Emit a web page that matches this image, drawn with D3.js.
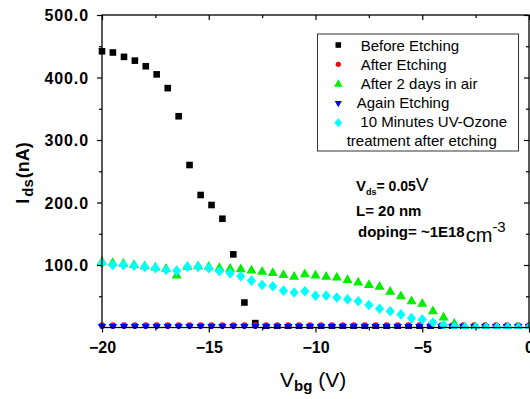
<!DOCTYPE html>
<html>
<head>
<meta charset="utf-8">
<script src="https://cdn.jsdelivr.net/npm/d3@7/dist/d3.min.js"></script>
<style>
  html, body { margin: 0; padding: 0; background: #fff; }
  svg { display: block; }
  text { font-family: "Liberation Sans", Arial, sans-serif; fill: #000; }
</style>
</head>
<body>
<svg id="chart" width="530" height="399"></svg>
<script>
// ---------------- DATA ----------------
const seriesNames = ["Before Etching", "After Etching", "After 2 days in air", "Again Etching", "10 Minutes UV-Ozone"];
const legendExtraLine = "treatment after etching";

// gate voltages (V) for the etching sweeps (40 points)
const vbgA = [-20, -19.49, -18.97, -18.46, -17.95, -17.44, -16.92, -16.41, -15.90, -15.38,
              -14.87, -14.36, -13.85, -13.33, -12.82, -12.31, -11.79, -11.28, -10.77, -10.26,
              -9.74, -9.23, -8.72, -8.21, -7.69, -7.18, -6.67, -6.15, -5.64, -5.13,
              -4.62, -4.10, -3.59, -3.08, -2.56, -2.05, -1.54, -1.03, -0.51, 0];
// gate voltages (V) for the air / UV-ozone sweeps (41 points)
const vbgB = [-20, -19.5, -19, -18.5, -18, -17.5, -17, -16.5, -16, -15.5,
              -15, -14.5, -14, -13.5, -13, -12.5, -12, -11.5, -11, -10.5,
              -10, -9.5, -9, -8.5, -8, -7.5, -7, -6.5, -6, -5.5,
              -5, -4.5, -4, -3.5, -3, -2.5, -2, -1.5, -1, -0.5, 0];

const beforeEtching = [442, 440, 433, 427, 418, 405, 383, 338, 260, 212,
                       196, 174, 117, 40, 7, 0, 0, 0, 0, 0,
                       0, 0, 0, 0, 0, 0, 0, 0, 0, 0,
                       0, 0, 0, 0, 0, 0, 0, 0, 0, 0];
const afterEtching = [3.5, 3.5, 3.5, 3.5, 3.5, 3.5, 3.5, 3.5, 3.5, 3.5,
                      3.5, 3.5, 3.5, 3.5, 3.5, 3.5, 3.5, 3.5, 3.5, 3.5,
                      3.5, 3.5, 3.5, 3.5, 3.5, 3.5, 3.5, 3.5, 3.5, 3.5,
                      3.5, 3.5, 3.5, 3.5, 3.5, 3.5, 3.5, 3.5, 3.5, 3.5];
const after2Days = [106, 104, 103, 101, 99, 97, 95, 84, 98, 99,
                    98, 96, 95, 94, 92, 90, 88, 85, 82, 86,
                    84, 82, 81, 77, 73, 69, 66, 58, 51, 43,
                    39, 27, 17, 7, 1, 1, 1, 1, 1, 1, 1];
const againEtching = [1, 1, 1, 1, 1, 1, 1, 1, 1, 1,
                      1, 1, 1, 1, 1, 1, 1, 1, 1, 1,
                      1, 1, 1, 1, 1, 1, 1, 1, 1, 1,
                      1, 1, 1, 1, 1, 1, 1, 1, 1, 1];
const uvOzone = [103, 100, 100, 99, 97, 95, 92, 91, 97, 97,
                 95, 90, 87, 82, 75, 68, 66, 59, 56, 58,
                 51, 51, 48, 45, 42, 36, 30, 26, 21, 15,
                 13, 8, 4, 1, 0, 0, 0, 0, 0, 0, 0];

const xMajorTicks = [-20, -15, -10, -5, 0];
const xMinorTicks = [-17.5, -12.5, -7.5, -2.5];
const yMajorTicks = [100, 200, 300, 400, 500];
const yMinorTicks = [50, 150, 250, 350, 450];

// ---------------- LAYOUT ----------------
const svg = d3.select("#chart");
const L = 102, R = 529, T = 15, B = 327.5;
const x = d3.scaleLinear().domain([-20, 0]).range([L, R]);
const y = d3.scaleLinear().domain([0, 500]).range([B, T]);

// marker shapes
function markerPath(type) {
  switch (type) {
    case "square": { const h = 3.3; return `M${-h},${-h}H${h}V${h}H${-h}Z`; }
    case "circle": { const r = 3.1; return `M${r},0A${r},${r} 0 1,1 ${-r},0A${r},${r} 0 1,1 ${r},0Z`; }
    case "triUp": return "M0,-5.2L5,3.6L-5,3.6Z";
    case "triDown": return "M0,4.4L4.2,-3L-4.2,-3Z";
    case "diamond": return "M0,-5.3L4.6,0L0,5.3L-4.6,0Z";
  }
}

const series = [
  { name: seriesNames[0], xs: vbgA, ys: beforeEtching, color: "#000000", shape: "square" },
  { name: seriesNames[1], xs: vbgA, ys: afterEtching, color: "#ff0000", shape: "circle" },
  { name: seriesNames[2], xs: vbgB, ys: after2Days, color: "#00ee00", shape: "triUp" },
  { name: seriesNames[3], xs: vbgA, ys: againEtching, color: "#0000ff", shape: "triDown" },
  { name: seriesNames[4], xs: vbgB, ys: uvOzone, color: "#00ffff", shape: "diamond" }
];

svg.append("defs").append("clipPath").attr("id", "plotclip")
  .append("rect").attr("x", L - 6).attr("y", T).attr("width", R - L + 12).attr("height", B - T + 1.5);

const plot = svg.append("g").attr("clip-path", "url(#plotclip)");
series.forEach(s => {
  plot.append("g").selectAll("path")
    .data(s.xs.map((v, i) => [v, s.ys[i]]))
    .join("path")
    .attr("d", markerPath(s.shape))
    .attr("transform", d => `translate(${x(d[0])},${y(d[1])})`)
    .attr("fill", s.color);
});

// ---------------- AXES ----------------
function styleAxis(g) {
  g.select(".domain").remove();
  g.selectAll(".tick line").attr("stroke", "#000").attr("stroke-width", 1.2);
}
// bottom
svg.append("g").attr("transform", `translate(0,${B})`)
  .call(d3.axisBottom(x).tickValues(xMajorTicks).tickSize(5).tickPadding(9).tickFormat(d3.format("d")))
  .call(styleAxis)
  .call(g => g.selectAll("text").attr("font-size", 16).attr("font-weight", "bold")
    .attr("font-family", "Liberation Sans, Arial, sans-serif"));
svg.append("g").attr("transform", `translate(0,${B})`)
  .call(d3.axisBottom(x).tickValues(xMinorTicks).tickSize(3).tickFormat(""))
  .call(styleAxis);
// top (inward)
svg.append("g").attr("transform", `translate(0,${T})`)
  .call(d3.axisTop(x).tickValues(xMajorTicks).tickSize(-5).tickFormat(""))
  .call(styleAxis);
svg.append("g").attr("transform", `translate(0,${T})`)
  .call(d3.axisTop(x).tickValues(xMinorTicks).tickSize(-3).tickFormat(""))
  .call(styleAxis);
// left
svg.append("g").attr("transform", `translate(${L},0)`)
  .call(d3.axisLeft(y).tickValues(yMajorTicks).tickSize(5).tickPadding(8).tickFormat(d3.format(".1f")))
  .call(styleAxis)
  .call(g => g.selectAll("text").attr("font-size", 16).attr("font-weight", "bold")
    .attr("letter-spacing", "0.9px").attr("dy", "0.35em")
    .attr("font-family", "Liberation Sans, Arial, sans-serif"));
svg.append("g").attr("transform", `translate(${L},0)`)
  .call(d3.axisLeft(y).tickValues(yMinorTicks).tickSize(3).tickFormat(""))
  .call(styleAxis);
// right (inward)
svg.append("g").attr("transform", `translate(${R},0)`)
  .call(d3.axisRight(y).tickValues(yMajorTicks).tickSize(-5).tickFormat(""))
  .call(styleAxis);
svg.append("g").attr("transform", `translate(${R},0)`)
  .call(d3.axisRight(y).tickValues(yMinorTicks).tickSize(-3).tickFormat(""))
  .call(styleAxis);

// frame
svg.append("rect").attr("x", L).attr("y", T).attr("width", R - L).attr("height", B - T)
  .attr("fill", "none").attr("stroke", "#000").attr("stroke-width", 1.3);

// ---------------- TITLES ----------------
const xt = svg.append("text").attr("x", 280).attr("y", 387);
xt.append("tspan").attr("font-size", 21).text("V");
xt.append("tspan").attr("font-size", 15).attr("font-weight", "bold").attr("dy", 4).text("bg");
xt.append("tspan").attr("font-size", 21).attr("dy", -4).text(" (V)");

const yt = svg.append("text").attr("transform", "translate(29,173) rotate(-90)")
  .attr("text-anchor", "middle").attr("font-weight", "bold");
yt.append("tspan").attr("font-size", 18).text("I");
yt.append("tspan").attr("font-size", 15).attr("dy", 4).attr("dx", 2).text("ds");
yt.append("tspan").attr("font-size", 18).attr("dy", -4).attr("dx", 1).text("(nA)");

// ---------------- LEGEND ----------------
const lg = svg.append("g");
lg.append("rect").attr("x", 317.5).attr("y", 34).attr("width", 201).attr("height", 117)
  .attr("fill", "#fff").attr("stroke", "#333").attr("stroke-width", 1);
const markerYs = [45, 64.3, 83.6, 103.5, 122.7];
const textYs = [50.7, 69.5, 88.5, 107.5, 126.7];
const textXs = [360.7, 360.7, 360.7, 356.7, 360.3];
series.forEach((s, i) => {
  lg.append("path").attr("d", markerPath(s.shape))
    .attr("transform", `translate(338.3,${markerYs[i]}) scale(0.85)`)
    .attr("fill", s.color);
  lg.append("text").attr("x", textXs[i]).attr("y", textYs[i]).attr("font-size", 15).text(s.name);
});
lg.append("text").attr("x", 346.7).attr("y", 146).attr("font-size", 15).text(legendExtraLine);

// ---------------- ANNOTATION ----------------
const a1 = svg.append("text").attr("x", 356).attr("y", 190.7).attr("font-weight", "bold");
a1.append("tspan").attr("font-size", 15).text("V");
a1.append("tspan").attr("font-size", 9).attr("dy", 4.5).text("ds");
a1.append("tspan").attr("font-size", 14).attr("dy", -4.5).text("= 0.05");
a1.append("tspan").attr("font-size", 19).attr("font-weight", "normal").text("V");

svg.append("text").attr("x", 356).attr("y", 216).attr("font-weight", "bold")
  .attr("font-size", 15).text("L= 20 nm");

const a3 = svg.append("text").attr("x", 358).attr("y", 237);
a3.append("tspan").attr("font-size", 15).attr("font-weight", "bold").text("doping= ~1E18");
a3.append("tspan").attr("font-size", 20).attr("dy", 4.7).attr("dx", 1).text("cm");
a3.append("tspan").attr("font-size", 15).attr("dy", -10).text("-3");
</script>
</body>
</html>
